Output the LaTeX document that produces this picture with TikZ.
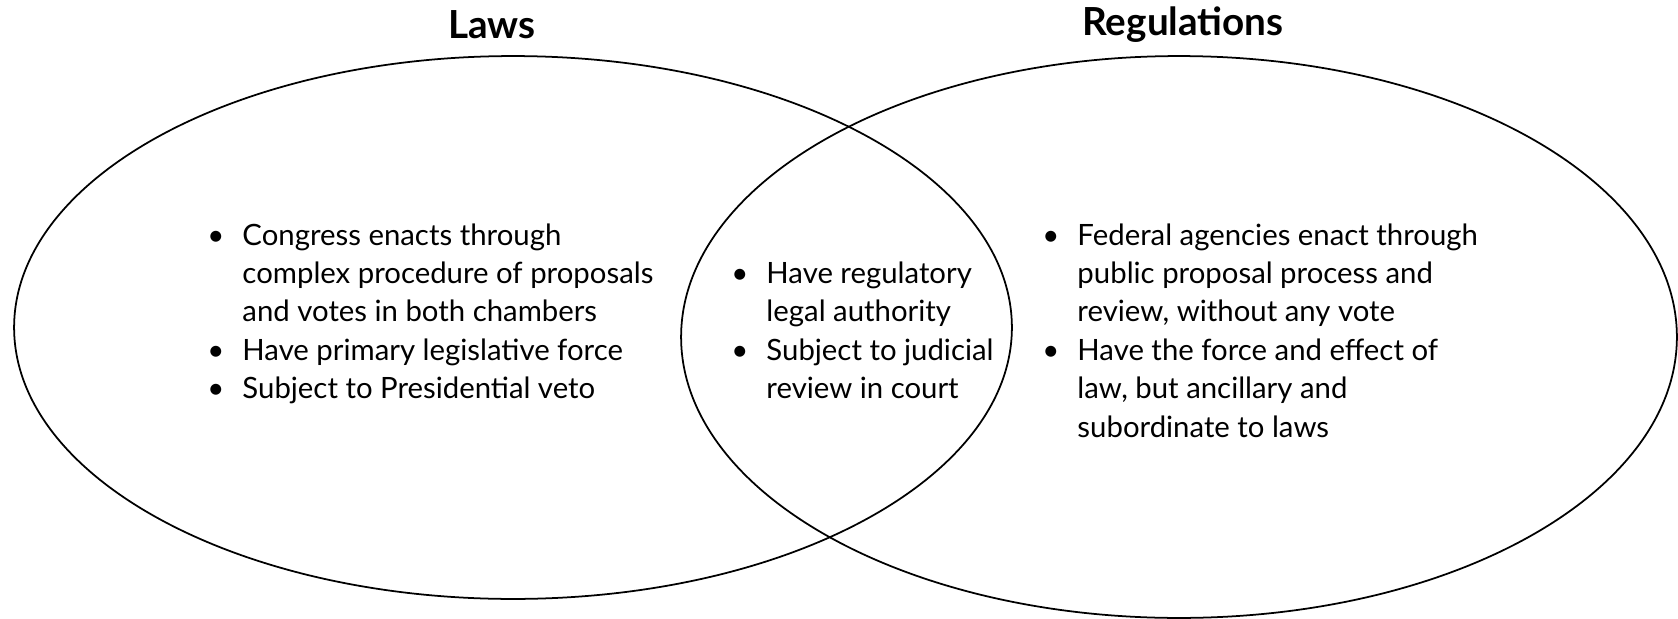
\documentclass[tikz,border=0pt]{standalone}
\usepackage{fontspec}
\setmainfont{Lato}
\usetikzlibrary{shapes.geometric,positioning}

\tikzset{
	venn/.style={draw, ellipse, line width=1pt, inner sep=0pt},
	title/.style={font=\fontsize{22}{25}\selectfont\bfseries},
	points/.style={anchor=base west, inner sep=0pt, font=\fontsize{16.7}{21.9}\selectfont}
}
\newcommand{\pt}{\makebox[20pt][l]{\textbullet}}

\begin{document}
\begin{tikzpicture}[x=0.02cm, y=-0.02cm]
				\useasboundingbox (0,0) rectangle (1678,619);
				\node[venn, minimum width=19.96cm, minimum height=10.86cm] (laws) at (513, 327.5) {};
				\node[venn, minimum width=19.92cm, minimum height=11.24cm] (regs) at (1179, 337) {};
				\node[title] (lawstitle) at (492, 25) {Laws};
				\node[title] (regstitle) at (1183, 25) {Regulations};
				
				\node[points] (lawspts) at (207, 245) {\begin{tabular}[t]{@{}l@{}l@{}}
					\pt & Congress enacts through\\
					& complex procedure of proposals\\
					& and votes in both chambers\\
					\pt & Have primary legislative force\\
					\pt & Subject to Presidential veto
				\end{tabular}};
				\node[points] (bothpts) at (731, 283.5) {\begin{tabular}[t]{@{}l@{}l@{}}
					\pt & Have regulatory\\
					& legal authority\\
					\pt & Subject to judicial\\
					& review in court
				\end{tabular}};
				\node[points] (regspts) at (1042, 245) {\begin{tabular}[t]{@{}l@{}l@{}}
					\pt & Federal agencies enact through\\
					& public proposal process and\\
					& review, without any vote\\
					\pt & Have the force and effect of\\
					& law, but ancillary and\\
					& subordinate to laws
				\end{tabular}};
				\end{tikzpicture}
\end{document}
